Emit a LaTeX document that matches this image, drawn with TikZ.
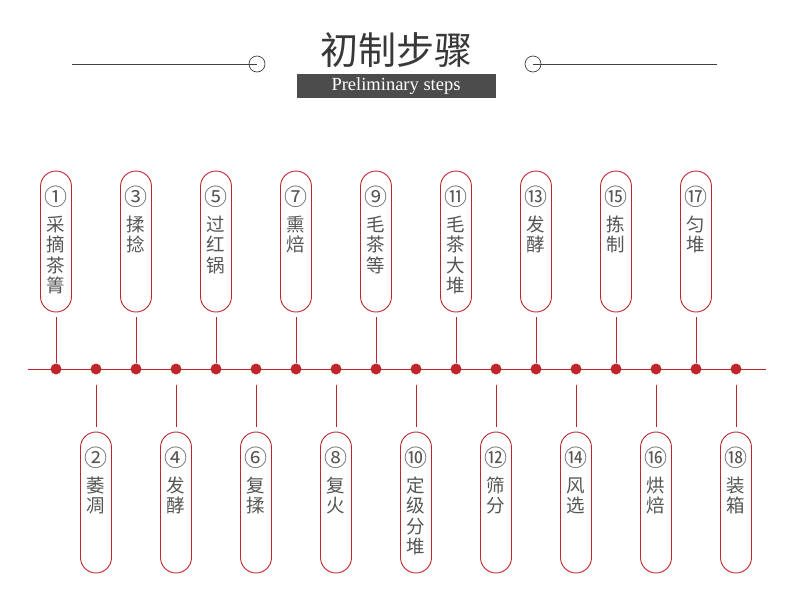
\documentclass[tikz,border=0pt]{standalone}
\usepackage{fontspec}
\setmainfont{Liberation Serif}
\newfontfamily\cjk{Noto Sans CJK SC}
\usetikzlibrary{positioning}
\definecolor{tred}{HTML}{C0272D}
\definecolor{tgray}{HTML}{555555}
\newcommand{\stepno}[1]{{\fontsize{23}{23}\selectfont #1}\\[6pt]}

\begin{document}
\begin{tikzpicture}[
      x=1pt, y=-1pt,
      pill/.style={draw=tred, line width=0.9pt, rounded corners=15.5pt,
                   minimum width=31pt, minimum height=141pt, inner sep=0pt},
      stxt/.style={font=\cjk\fontsize{18.5}{20.3}\selectfont, text=tgray,
                   align=center, inner sep=0pt},
      dot/.style={circle, fill=tred, minimum size=11pt, inner sep=0pt},
      conn/.style={draw=tred, line width=0.9pt},
      ring/.style={circle, draw=black!75, line width=0.7pt,
                   minimum size=16pt, inner sep=0pt},
      rule/.style={draw=black!75, line width=0.7pt}
    ]
    \useasboundingbox (0,0) rectangle (790,592);

    % heading
    \node[font=\cjk\fontsize{38}{38}\selectfont, text=black!78] (ttl)
      at (396,50) {初制步骤};
    \node[fill=black!70, text=white, font=\fontsize{18.5}{18.5}\selectfont,
          minimum width=199pt, minimum height=24pt, inner sep=0pt,
          below=24pt of ttl.center] (sub) {Preliminary steps};
    \node[ring] (rl) at (257,64) {};
    \node[ring] (rr) at (533,64) {};
    \coordinate (hl) at (72,64);
    \coordinate (hr) at (717,64);
    \draw[rule] (hl) -- (rl.center);
    \draw[rule] (rr.center) -- (hr);

    % time line
    \coordinate (tl) at (28,369);
    \coordinate (tr) at (766,369);
    \draw[conn] (tl) -- (tr);

    % dots
    \node[dot] (d1) at (56,369) {};
    \node[dot] (d2) at (96,369) {};
    \node[dot] (d3) at (136,369) {};
    \node[dot] (d4) at (176,369) {};
    \node[dot] (d5) at (216,369) {};
    \node[dot] (d6) at (256,369) {};
    \node[dot] (d7) at (296,369) {};
    \node[dot] (d8) at (336,369) {};
    \node[dot] (d9) at (376,369) {};
    \node[dot] (d10) at (416,369) {};
    \node[dot] (d11) at (456,369) {};
    \node[dot] (d12) at (496,369) {};
    \node[dot] (d13) at (536,369) {};
    \node[dot] (d14) at (576,369) {};
    \node[dot] (d15) at (616,369) {};
    \node[dot] (d16) at (656,369) {};
    \node[dot] (d17) at (696,369) {};
    \node[dot] (d18) at (736,369) {};

    % upper steps
    \node[pill] (p1) at (56,241.5) {};
    \node[stxt, below=15pt of p1.north] (t1) {\stepno{①}采\\摘\\茶\\箐};
    \node[pill] (p3) at (136,241.5) {};
    \node[stxt, below=15pt of p3.north] (t3) {\stepno{③}揉\\捻};
    \node[pill] (p5) at (216,241.5) {};
    \node[stxt, below=15pt of p5.north] (t5) {\stepno{⑤}过\\红\\锅};
    \node[pill] (p7) at (296,241.5) {};
    \node[stxt, below=15pt of p7.north] (t7) {\stepno{⑦}熏\\焙};
    \node[pill] (p9) at (376,241.5) {};
    \node[stxt, below=15pt of p9.north] (t9) {\stepno{⑨}毛\\茶\\等};
    \node[pill] (p11) at (456,241.5) {};
    \node[stxt, below=15pt of p11.north] (t11) {\stepno{⑪}毛\\茶\\大\\堆};
    \node[pill] (p13) at (536,241.5) {};
    \node[stxt, below=15pt of p13.north] (t13) {\stepno{⑬}发\\酵};
    \node[pill] (p15) at (616,241.5) {};
    \node[stxt, below=15pt of p15.north] (t15) {\stepno{⑮}拣\\制};
    \node[pill] (p17) at (696,241.5) {};
    \node[stxt, below=15pt of p17.north] (t17) {\stepno{⑰}匀\\堆};

    % lower steps
    \node[pill] (p2) at (96,502.5) {};
    \node[stxt, below=15pt of p2.north] (t2) {\stepno{②}萎\\凋};
    \node[pill] (p4) at (176,502.5) {};
    \node[stxt, below=15pt of p4.north] (t4) {\stepno{④}发\\酵};
    \node[pill] (p6) at (256,502.5) {};
    \node[stxt, below=15pt of p6.north] (t6) {\stepno{⑥}复\\揉};
    \node[pill] (p8) at (336,502.5) {};
    \node[stxt, below=15pt of p8.north] (t8) {\stepno{⑧}复\\火};
    \node[pill] (p10) at (416,502.5) {};
    \node[stxt, below=15pt of p10.north] (t10) {\stepno{⑩}定\\级\\分\\堆};
    \node[pill] (p12) at (496,502.5) {};
    \node[stxt, below=15pt of p12.north] (t12) {\stepno{⑫}筛\\分};
    \node[pill] (p14) at (576,502.5) {};
    \node[stxt, below=15pt of p14.north] (t14) {\stepno{⑭}风\\选};
    \node[pill] (p16) at (656,502.5) {};
    \node[stxt, below=15pt of p16.north] (t16) {\stepno{⑯}烘\\焙};
    \node[pill] (p18) at (736,502.5) {};
    \node[stxt, below=15pt of p18.north] (t18) {\stepno{⑱}装\\箱};

    % connectors
    \draw[conn, shorten <=5pt] (p1) -- (d1);
    \draw[conn, shorten <=5pt] (p3) -- (d3);
    \draw[conn, shorten <=5pt] (p5) -- (d5);
    \draw[conn, shorten <=5pt] (p7) -- (d7);
    \draw[conn, shorten <=5pt] (p9) -- (d9);
    \draw[conn, shorten <=5pt] (p11) -- (d11);
    \draw[conn, shorten <=5pt] (p13) -- (d13);
    \draw[conn, shorten <=5pt] (p15) -- (d15);
    \draw[conn, shorten <=5pt] (p17) -- (d17);
    \draw[conn, shorten <=10pt, shorten >=5pt] (d2) -- (p2);
    \draw[conn, shorten <=10pt, shorten >=5pt] (d4) -- (p4);
    \draw[conn, shorten <=10pt, shorten >=5pt] (d6) -- (p6);
    \draw[conn, shorten <=10pt, shorten >=5pt] (d8) -- (p8);
    \draw[conn, shorten <=10pt, shorten >=5pt] (d10) -- (p10);
    \draw[conn, shorten <=10pt, shorten >=5pt] (d12) -- (p12);
    \draw[conn, shorten <=10pt, shorten >=5pt] (d14) -- (p14);
    \draw[conn, shorten <=10pt, shorten >=5pt] (d16) -- (p16);
    \draw[conn, shorten <=10pt, shorten >=5pt] (d18) -- (p18);
  \end{tikzpicture}
\end{document}
